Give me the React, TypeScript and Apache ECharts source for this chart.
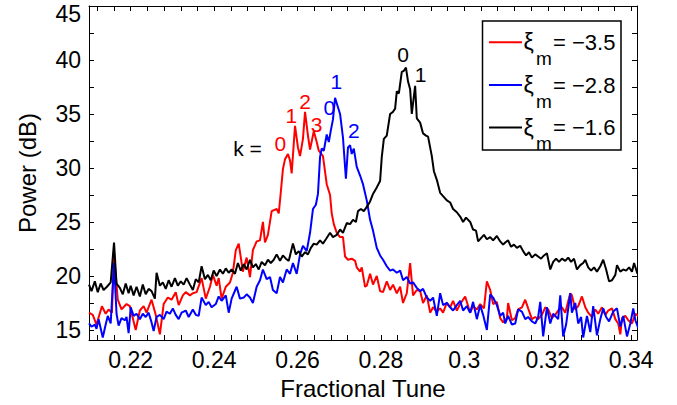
import React, { useEffect, useRef } from "react";
import * as echarts from "echarts";

const FONT = "'Liberation Sans', Arial, Helvetica, sans-serif";

const TUNE_MIN = 0.21;
const TUNE_MAX = 0.3414;
const DB_MIN = 14.07;
const DB_MAX = 45;

const X_LABELS = [0.22, 0.24, 0.26, 0.28, 0.3, 0.32, 0.34];
const X_TICKS = [
  0.212, 0.216, 0.22, 0.224, 0.228, 0.232, 0.236, 0.24, 0.244, 0.248, 0.252, 0.256,
  0.26, 0.264, 0.268, 0.272, 0.276, 0.28, 0.284, 0.288, 0.292, 0.296, 0.3, 0.304,
  0.308, 0.312, 0.316, 0.32, 0.324, 0.328, 0.332, 0.336, 0.34,
];
const Y_LABELS = [15, 20, 25, 30, 35, 40, 45];
const Y_TICKS = [15, 17.5, 20, 22.5, 25, 27.5, 30, 32.5, 35, 37.5, 40, 42.5, 45];

const SERIES_NAMES = ["ξm = −3.5", "ξm = −2.8", "ξm = −1.6"];
const LEGEND_VALUES = ["= −3.5", "= −2.8", "= −1.6"];
const COLORS = ["#ff0000", "#0000ff", "#000000"];

// [fractional tune, power dB]
const RED: [number, number][] = [
  [0.21, 16.6], [0.2109, 16.4], [0.2118, 15.5], [0.2131, 17.2], [0.214, 16.5], [0.2147, 16.9],
  [0.2155, 16.6], [0.216, 22.0], [0.2169, 17.8], [0.2178, 16.9], [0.219, 17.4], [0.2198, 17.2],
  [0.2212, 15.0], [0.2222, 16.8], [0.2231, 17.2], [0.2238, 16.6], [0.225, 17.8], [0.226, 16.4],
  [0.227, 14.6], [0.2279, 17.4], [0.2289, 18.0], [0.2298, 17.8], [0.2308, 18.5], [0.2315, 17.3],
  [0.2325, 18.2], [0.2332, 18.5], [0.2342, 18.2], [0.2349, 18.4], [0.2358, 18.5], [0.237, 19.8],
  [0.238, 17.9], [0.239, 19.0], [0.2397, 20.1], [0.2406, 19.1], [0.2411, 19.8], [0.2418, 17.9],
  [0.2428, 19.0], [0.2438, 19.4], [0.2445, 20.3], [0.2452, 22.4], [0.2459, 23.0], [0.2469, 20.4],
  [0.2478, 21.7], [0.2486, 19.9], [0.2493, 22.4], [0.2502, 23.2], [0.251, 23.3], [0.2517, 25.0],
  [0.2522, 23.1], [0.2529, 23.8], [0.2538, 26.0], [0.255, 26.2], [0.2555, 25.8], [0.256, 27.8],
  [0.2565, 29.9], [0.257, 30.8], [0.2577, 31.3], [0.2582, 30.7], [0.2586, 29.5], [0.2594, 33.9],
  [0.2601, 31.9], [0.2606, 31.1], [0.2613, 32.7], [0.2618, 35.2], [0.2625, 33.0], [0.263, 31.7],
  [0.2639, 33.4], [0.2646, 32.4], [0.2651, 31.6], [0.2661, 31.1], [0.267, 28.5], [0.2678, 27.5],
  [0.2682, 25.8], [0.2687, 24.8], [0.2694, 24.0], [0.2702, 23.6], [0.2709, 23.6], [0.2714, 21.8],
  [0.2721, 21.5], [0.273, 21.6], [0.2738, 21.4], [0.2742, 20.8], [0.275, 20.4], [0.2754, 20.8],
  [0.2762, 19.0], [0.2766, 19.1], [0.2774, 20.2], [0.2781, 19.2], [0.279, 20.0], [0.2798, 18.6],
  [0.2805, 18.5], [0.2814, 19.5], [0.2822, 18.7], [0.2829, 19.2], [0.2838, 18.4], [0.2846, 19.0],
  [0.2853, 17.5], [0.2862, 18.4], [0.287, 21.2], [0.2877, 18.2], [0.2886, 18.7], [0.2894, 18.6],
  [0.2901, 17.5], [0.291, 18.2], [0.2918, 16.6], [0.2925, 17.1], [0.2934, 16.7], [0.2942, 17.0],
  [0.2949, 16.6], [0.2958, 17.5], [0.2966, 17.1], [0.2973, 17.7], [0.2982, 16.8], [0.299, 17.4],
  [0.3002, 18.1], [0.3014, 16.6], [0.3021, 17.2], [0.303, 16.9], [0.3038, 17.4], [0.3047, 17.0],
  [0.3054, 19.5], [0.3062, 18.7], [0.3069, 17.4], [0.3078, 17.6], [0.3086, 16.1], [0.3093, 15.7],
  [0.3102, 16.1], [0.3105, 17.5], [0.3114, 15.9], [0.3122, 16.1], [0.3129, 16.9], [0.3138, 17.1],
  [0.3146, 17.8], [0.3153, 17.0], [0.3162, 16.0], [0.317, 16.2], [0.3177, 16.0], [0.3186, 16.4],
  [0.3194, 17.1], [0.3201, 16.9], [0.321, 16.1], [0.3218, 16.4], [0.3225, 16.8], [0.3234, 17.1],
  [0.3242, 16.6], [0.3254, 18.4], [0.3258, 18.2], [0.3266, 16.9], [0.3273, 17.2], [0.3282, 18.1],
  [0.329, 17.1], [0.3297, 16.6], [0.3306, 16.2], [0.3314, 16.9], [0.3321, 16.5], [0.333, 17.1],
  [0.3338, 16.4], [0.3345, 16.8], [0.3354, 17.0], [0.3362, 16.0], [0.3369, 15.6], [0.3374, 14.6],
  [0.3378, 16.1], [0.3386, 16.3], [0.3393, 15.9], [0.3402, 15.6], [0.341, 16.5], [0.3417, 16.3],
];

const BLUE: [number, number][] = [
  [0.21, 15.6], [0.2106, 15.3], [0.2114, 15.5], [0.2118, 15.1], [0.2123, 16.0], [0.2133, 14.3],
  [0.214, 15.5], [0.2145, 16.3], [0.2152, 15.6], [0.216, 21.2], [0.2166, 16.5], [0.2171, 15.4],
  [0.2178, 16.1], [0.2186, 15.9], [0.219, 16.2], [0.2195, 14.7], [0.22, 17.1], [0.2207, 16.3],
  [0.2214, 16.5], [0.2222, 16.0], [0.2229, 16.5], [0.2236, 16.2], [0.2243, 16.6], [0.225, 15.7],
  [0.2255, 14.9], [0.2262, 16.2], [0.227, 16.4], [0.2279, 16.0], [0.2286, 16.7], [0.2294, 16.5],
  [0.2301, 17.0], [0.2308, 16.4], [0.2315, 16.0], [0.2322, 16.6], [0.2332, 16.8], [0.2339, 16.2],
  [0.2349, 16.9], [0.2356, 16.4], [0.2363, 16.3], [0.237, 18.0], [0.238, 17.3], [0.2387, 17.6],
  [0.2394, 17.1], [0.2404, 17.4], [0.2411, 18.1], [0.2418, 17.7], [0.2428, 18.2], [0.2435, 16.6],
  [0.2442, 17.9], [0.2454, 19.0], [0.2462, 17.9], [0.2471, 18.0], [0.2478, 18.3], [0.2486, 18.0],
  [0.2493, 17.5], [0.2502, 19.0], [0.251, 19.6], [0.2517, 20.6], [0.2526, 19.7], [0.2534, 19.9],
  [0.2541, 18.7], [0.255, 18.4], [0.2558, 19.9], [0.2565, 19.4], [0.2574, 20.6], [0.2582, 20.2],
  [0.2589, 21.2], [0.2598, 20.2], [0.2606, 22.0], [0.2613, 22.8], [0.2622, 22.3], [0.263, 24.0],
  [0.2637, 26.2], [0.2644, 26.6], [0.2649, 27.6], [0.2654, 31.0], [0.2658, 31.8], [0.2663, 31.6],
  [0.267, 33.1], [0.2675, 32.4], [0.268, 33.5], [0.2685, 34.5], [0.269, 36.5], [0.2694, 36.0],
  [0.2702, 35.0], [0.2709, 32.8], [0.2716, 29.0], [0.2721, 31.9], [0.2726, 32.1], [0.273, 31.3],
  [0.2735, 31.8], [0.2742, 30.1], [0.275, 29.3], [0.2757, 28.5], [0.2766, 27.0], [0.2774, 25.2],
  [0.2781, 24.2], [0.279, 22.6], [0.2798, 21.9], [0.2805, 21.5], [0.2814, 20.9], [0.2822, 20.5],
  [0.2829, 20.6], [0.2838, 20.3], [0.2846, 20.5], [0.2853, 19.6], [0.2862, 19.9], [0.287, 19.3],
  [0.2877, 19.4], [0.2886, 18.9], [0.2894, 18.6], [0.2901, 18.8], [0.291, 18.0], [0.2918, 17.7],
  [0.2925, 18.0], [0.2934, 16.3], [0.2942, 18.4], [0.2949, 17.3], [0.2958, 17.5], [0.2966, 17.1],
  [0.2973, 16.8], [0.2982, 17.3], [0.299, 17.7], [0.2997, 16.8], [0.3006, 17.2], [0.3014, 16.6],
  [0.3021, 17.6], [0.303, 16.0], [0.3038, 17.3], [0.3045, 16.4], [0.3054, 15.0], [0.3062, 18.3],
  [0.3069, 18.0], [0.3078, 17.3], [0.3086, 16.3], [0.3093, 16.6], [0.3098, 15.6], [0.3105, 16.3],
  [0.3114, 15.5], [0.3122, 15.6], [0.3129, 16.9], [0.3138, 16.7], [0.3146, 16.0], [0.3153, 16.2],
  [0.3162, 15.8], [0.317, 15.6], [0.3177, 16.2], [0.3182, 17.6], [0.3189, 14.4], [0.3198, 17.1],
  [0.3206, 15.6], [0.3213, 16.5], [0.3218, 16.3], [0.3225, 16.0], [0.323, 18.2], [0.3237, 14.4],
  [0.3244, 15.5], [0.3254, 18.4], [0.3258, 16.6], [0.3266, 17.5], [0.3273, 15.6], [0.328, 16.2],
  [0.3285, 14.3], [0.3294, 16.3], [0.3302, 14.8], [0.3309, 17.2], [0.3318, 14.5], [0.3326, 16.0],
  [0.3333, 17.0], [0.334, 16.2], [0.3347, 15.8], [0.3357, 16.7], [0.3366, 17.0], [0.3374, 15.3],
  [0.3381, 16.3], [0.339, 14.4], [0.3398, 15.6], [0.3405, 17.0], [0.341, 15.9], [0.3417, 15.2],
];

const BLACK: [number, number][] = [
  [0.21, 19.2], [0.2106, 18.6], [0.2114, 19.5], [0.2121, 18.5], [0.2128, 19.3], [0.2135, 18.7],
  [0.2143, 19.0], [0.2152, 19.4], [0.216, 23.1], [0.2166, 19.3], [0.2174, 18.9], [0.2181, 18.3],
  [0.2188, 19.3], [0.2195, 18.4], [0.22, 19.1], [0.2207, 18.2], [0.2214, 19.0], [0.2222, 18.1],
  [0.2229, 19.2], [0.2236, 18.3], [0.2243, 18.8], [0.225, 18.6], [0.2258, 17.9], [0.2262, 20.3],
  [0.227, 19.1], [0.2277, 19.4], [0.2284, 18.8], [0.2291, 19.6], [0.2298, 19.0], [0.2306, 19.8],
  [0.2313, 19.1], [0.232, 19.5], [0.2327, 19.2], [0.2334, 19.8], [0.2342, 19.2], [0.2349, 18.7],
  [0.2356, 19.7], [0.2363, 19.4], [0.237, 20.9], [0.2378, 19.7], [0.2385, 20.1], [0.2392, 19.6],
  [0.2399, 20.5], [0.2406, 20.0], [0.2414, 20.6], [0.2421, 20.2], [0.2428, 20.7], [0.2435, 20.3],
  [0.2442, 20.6], [0.245, 20.2], [0.2457, 21.2], [0.2464, 20.5], [0.2471, 21.1], [0.2478, 20.6],
  [0.2486, 21.5], [0.2493, 20.8], [0.25, 21.1], [0.2507, 20.6], [0.2514, 21.3], [0.2522, 21.0],
  [0.2529, 21.5], [0.2536, 21.2], [0.2543, 21.5], [0.255, 22.0], [0.2558, 21.4], [0.2565, 21.9],
  [0.2572, 21.6], [0.2579, 21.4], [0.2589, 23.0], [0.2596, 22.0], [0.2603, 22.3], [0.261, 21.8],
  [0.2618, 22.2], [0.2625, 22.0], [0.2632, 22.6], [0.2639, 23.0], [0.2646, 22.9], [0.2654, 23.3],
  [0.2661, 23.0], [0.2668, 23.4], [0.2678, 24.0], [0.2685, 23.6], [0.2694, 23.8], [0.2702, 24.3],
  [0.2709, 24.0], [0.2718, 24.9], [0.2726, 24.8], [0.2733, 25.2], [0.274, 25.0], [0.2745, 26.0],
  [0.2752, 26.2], [0.2759, 26.0], [0.2766, 26.4], [0.2774, 26.9], [0.2781, 27.6], [0.279, 28.2],
  [0.2798, 28.8], [0.2802, 31.0], [0.2807, 32.7], [0.2814, 33.0], [0.2822, 35.0], [0.2829, 35.2],
  [0.2834, 35.5], [0.2838, 37.1], [0.2843, 36.9], [0.285, 38.9], [0.2855, 39.0], [0.286, 39.3],
  [0.2865, 38.0], [0.287, 37.3], [0.2874, 35.0], [0.2882, 37.6], [0.2886, 34.6], [0.2894, 34.2],
  [0.2901, 33.2], [0.2908, 33.0], [0.2913, 32.9], [0.2922, 31.1], [0.2927, 29.7], [0.2934, 28.9],
  [0.2942, 27.7], [0.2949, 27.4], [0.2958, 27.0], [0.2966, 26.8], [0.2973, 26.2], [0.2982, 25.9],
  [0.299, 25.5], [0.2997, 25.0], [0.3004, 25.4], [0.3014, 25.0], [0.3021, 24.3], [0.3028, 24.2],
  [0.3033, 23.2], [0.304, 23.5], [0.3047, 23.8], [0.3054, 23.4], [0.3062, 23.6], [0.3069, 23.3],
  [0.3078, 23.7], [0.3086, 23.2], [0.3093, 22.9], [0.3098, 23.1], [0.3105, 23.3], [0.3112, 22.7],
  [0.3119, 22.9], [0.3126, 22.6], [0.3134, 22.8], [0.3141, 22.3], [0.3148, 21.9], [0.3155, 22.2],
  [0.3162, 21.7], [0.317, 22.0], [0.3177, 21.8], [0.3184, 21.6], [0.3191, 21.9], [0.3198, 22.1],
  [0.3206, 20.6], [0.3213, 21.3], [0.322, 21.6], [0.3227, 21.3], [0.3234, 21.6], [0.3242, 21.4],
  [0.3249, 21.7], [0.3256, 21.3], [0.3263, 21.6], [0.327, 20.6], [0.3278, 21.0], [0.3285, 21.2],
  [0.329, 21.5], [0.3297, 20.8], [0.3304, 20.5], [0.3311, 20.8], [0.3318, 20.4], [0.3326, 20.9],
  [0.3333, 21.5], [0.334, 20.6], [0.3347, 19.5], [0.3354, 19.6], [0.3362, 20.1], [0.3366, 21.0],
  [0.3374, 20.4], [0.3381, 20.6], [0.3388, 20.5], [0.3395, 20.8], [0.3402, 20.4], [0.3407, 21.2],
  [0.3415, 20.2],
];

const SERIES_DATA = [RED, BLUE, BLACK];

// peak labels, anchored in data coordinates
const ANNOTATIONS = [
  { text: "k =", tune: 0.248, db: 31.8, color: "#000000" },
  { text: "0", tune: 0.2559, db: 32.3, color: "#ff0000" },
  { text: "1", tune: 0.2585, db: 34.9, color: "#ff0000" },
  { text: "2", tune: 0.2618, db: 36.2, color: "#ff0000" },
  { text: "3", tune: 0.2646, db: 34.0, color: "#ff0000" },
  { text: "0", tune: 0.2676, db: 35.6, color: "#0000ff" },
  { text: "1", tune: 0.2693, db: 38.0, color: "#0000ff" },
  { text: "2", tune: 0.2735, db: 33.5, color: "#0000ff" },
  { text: "0", tune: 0.2853, db: 40.5, color: "#000000" },
  { text: "1", tune: 0.2895, db: 38.7, color: "#000000" },
];

const axisLineStyle = { show: true, onZero: false, lineStyle: { color: "#000", width: 1 } };

function xAxisDef(position: "bottom" | "top") {
  const bottom = position === "bottom";
  return {
    type: "value",
    position,
    min: TUNE_MIN,
    max: TUNE_MAX,
    axisLine: axisLineStyle,
    splitLine: { show: false },
    axisTick: { show: true, inside: true, length: 5, customValues: X_TICKS, lineStyle: { color: "#000", width: 1 } },
    axisLabel: bottom
      ? { show: true, customValues: X_LABELS, color: "#000", fontSize: 23, fontFamily: FONT, margin: 8 }
      : { show: false },
    name: bottom ? "Fractional Tune" : "",
    nameLocation: "middle",
    nameGap: 36,
    nameTextStyle: { color: "#000", fontSize: 24, fontFamily: FONT },
  };
}

function yAxisDef(position: "left" | "right") {
  const left = position === "left";
  return {
    type: "value",
    position,
    min: DB_MIN,
    max: DB_MAX,
    axisLine: axisLineStyle,
    splitLine: { show: false },
    axisTick: { show: true, inside: true, length: 5, customValues: Y_TICKS, lineStyle: { color: "#000", width: 1 } },
    axisLabel: left
      ? {
          show: true,
          customValues: Y_LABELS,
          color: "#000",
          fontSize: 23,
          fontFamily: FONT,
          margin: 8,
          formatter: (v: number) => (v === DB_MAX ? "{top|" + v + "}" : String(v)),
          rich: { top: { padding: [15, 0, 0, 0], color: "#000", fontSize: 23, fontFamily: FONT } },
        }
      : { show: false },
    name: left ? "Power (dB)" : "",
    nameLocation: "middle",
    nameGap: 50,
    nameTextStyle: { color: "#000", fontSize: 24, fontFamily: FONT },
  };
}

function txt(text: string, x: number, y: number, size: number) {
  return {
    type: "text", x, y, z: 101,
    style: {
      text, fill: "#000", fontSize: size, fontFamily: FONT,
      align: "left", verticalAlign: "middle", textAlign: "left", textVerticalAlign: "middle",
    },
  };
}

function legendGraphic() {
  const els: any[] = [
    {
      type: "rect",
      shape: { x: 482.5, y: 21, width: 138.5, height: 129 },
      style: { fill: "#fff", stroke: "#000", lineWidth: 1.5 },
      z: 100,
    },
  ];
  const rowY = [42.3, 85, 127.5];
  LEGEND_VALUES.forEach((val, i) => {
    const y = rowY[i];
    els.push({ type: "line", shape: { x1: 489, y1: y, x2: 522, y2: y }, style: { stroke: COLORS[i], lineWidth: 2 }, z: 101 });
    els.push(txt("ξ", 523.5, y, 23));
    els.push(txt("m", 536, y + 16, 19));
    els.push(txt(val, 553, y, 22));
  });
  return els;
}

export default function App() {
  const ref = useRef<HTMLDivElement>(null);
  useEffect(() => {
    if (!ref.current) return;
    const chart = echarts.init(ref.current, null, { renderer: "svg" });
    const option: any = {
      animation: false,
      backgroundColor: "#fff",
      grid: { left: 89, right: 40, top: 6, bottom: 65, containLabel: false },
      xAxis: [xAxisDef("bottom"), xAxisDef("top")],
      yAxis: [yAxisDef("left"), yAxisDef("right")],
      series: SERIES_DATA.map((d, i) => ({
        name: SERIES_NAMES[i],
        type: "line",
        xAxisIndex: 0,
        yAxisIndex: 0,
        data: d,
        showSymbol: false,
        symbol: "none",
        clip: true,
        lineStyle: { color: COLORS[i], width: 2 },
        itemStyle: { color: COLORS[i] },
        z: 2 + i,
      })),
    };
    chart.setOption(option);
    const texts = ANNOTATIONS.map((a) => {
      const p = chart.convertToPixel({ xAxisIndex: 0, yAxisIndex: 0 }, [a.tune, a.db]) as number[];
      return {
        type: "text",
        x: p[0],
        y: p[1],
        z: 50,
        style: {
          text: a.text, fill: a.color, fontSize: 21, fontFamily: FONT,
          align: "center", verticalAlign: "middle", textAlign: "center", textVerticalAlign: "middle",
        },
      };
    });
    chart.setOption({ graphic: [...legendGraphic(), ...texts] });
    return () => chart.dispose();
  }, []);
  return (
    <div
      ref={ref}
      style={{ position: "fixed", left: 0, top: 0, width: 677, height: 405, background: "#fff" }}
    />
  );
}
